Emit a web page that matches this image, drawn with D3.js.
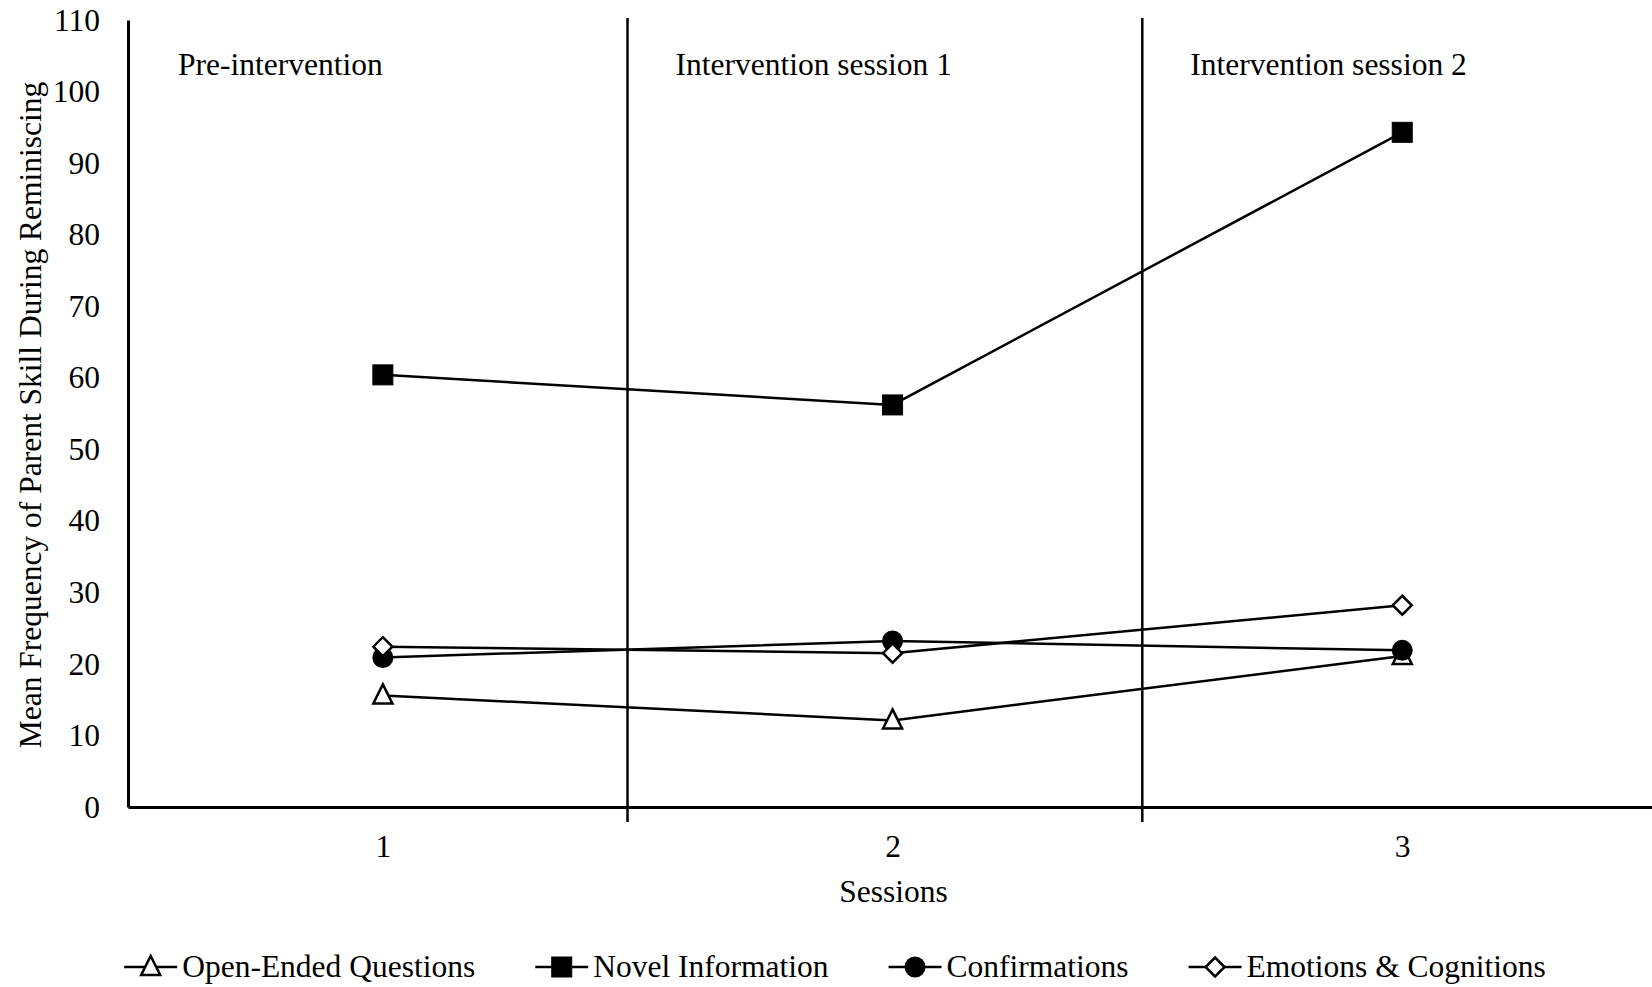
<!DOCTYPE html>
<html><head><meta charset="utf-8">
<script src="https://cdn.jsdelivr.net/npm/d3@7"></script>
<style>
html,body{margin:0;padding:0;background:#fff;}
text{font-family:"Liberation Serif","Times New Roman",serif;fill:#000;}
</style></head>
<body>
<svg id="chart" width="1652" height="987"></svg>
<script>
const sessions = [1, 2, 3];
const yTicks = [0, 10, 20, 30, 40, 50, 60, 70, 80, 90, 100, 110];
const openEnded = [15.6, 12.1, 21.1];
const novelInfo = [60.4, 56.2, 94.3];
const confirmations = [20.9, 23.2, 21.9];
const emotions = [22.4, 21.5, 28.2];
const seriesNames = ["Open-Ended Questions", "Novel Information", "Confirmations", "Emotions & Cognitions"];
const seriesSymbols = ["triangle", "square", "circle", "diamond"];
const periodLabels = ["Pre-intervention", "Intervention session 1", "Intervention session 2"];
const periodStarts = [0.5, 1.48, 2.49];
const dividers = [1.48, 2.49];

const series = [openEnded, novelInfo, confirmations, emotions].map((v, i) => ({
  name: seriesNames[i], sym: seriesSymbols[i], values: v
}));

const svg = d3.select("#chart");
const FS = 31.5;
const x = d3.scaleLinear().domain([0.5, 3.49]).range([128, 1652]);
const y = d3.scaleLinear().domain([0, 110]).range([807, 20]);

// dividers
svg.append("g").selectAll("line").data(dividers).join("line")
  .attr("x1", d => x(d)).attr("x2", d => x(d))
  .attr("y1", y(110) - 2).attr("y2", y(0) + 15)
  .attr("stroke", "#000").attr("stroke-width", 2.5);

// period labels
svg.append("g").selectAll("text").data(periodLabels).join("text")
  .attr("x", (d, i) => x(periodStarts[i]) + (i === 0 ? 50 : 48))
  .attr("y", 64).attr("dy", "0.35em")
  .style("font-size", FS + "px").text(d => d);

// y axis
const yAxis = svg.append("g").attr("transform", `translate(${x(0.5)},0)`)
  .call(d3.axisLeft(y).tickValues(yTicks).tickSize(0).tickSizeOuter(0).tickPadding(28).tickFormat(d3.format("d")));
yAxis.select(".domain").attr("stroke", "#000").attr("stroke-width", 3);
yAxis.selectAll("text").style("font-size", FS + "px").style("font-family", '"Liberation Serif",serif');

// x axis
const xAxis = svg.append("g").attr("transform", `translate(0,${y(0)})`)
  .call(d3.axisBottom(x).tickValues(sessions).tickSize(0).tickSizeOuter(0).tickPadding(28).tickFormat(d3.format("d")));
xAxis.select(".domain").attr("stroke", "#000").attr("stroke-width", 3);
xAxis.selectAll("text").style("font-size", FS + "px").style("font-family", '"Liberation Serif",serif');

// axis titles
svg.append("text").attr("x", x(2) + 1).attr("y", 891).attr("dy", "0.35em")
  .attr("text-anchor", "middle").style("font-size", FS + "px").text("Sessions");
svg.append("text").attr("transform", "translate(30,415) rotate(-90)").attr("dy", "0.35em")
  .attr("text-anchor", "middle").style("font-size", FS + "px")
  .text("Mean Frequency of Parent Skill During Reminiscing");

function drawMarker(g, sym, cx, cy) {
  if (sym === "square") {
    g.append("rect").attr("x", cx - 10).attr("y", cy - 10).attr("width", 20).attr("height", 20)
      .attr("fill", "#000").attr("stroke", "#000").attr("stroke-width", 1);
  } else if (sym === "circle") {
    g.append("circle").attr("cx", cx).attr("cy", cy).attr("r", 10.5).attr("fill", "#000");
  } else if (sym === "triangle") {
    g.append("path").attr("d", `M${cx},${cy - 11}L${cx + 9.5},${cy + 8}L${cx - 9.5},${cy + 8}Z`)
      .attr("fill", "#fff").attr("stroke", "#000").attr("stroke-width", 2.5);
  } else if (sym === "diamond") {
    g.append("path").attr("d", `M${cx},${cy - 9.5}L${cx + 9.5},${cy}L${cx},${cy + 9.5}L${cx - 9.5},${cy}Z`)
      .attr("fill", "#fff").attr("stroke", "#000").attr("stroke-width", 2.5);
  }
}

const line = d3.line().x((d, i) => x(sessions[i])).y(d => y(d));
const gLines = svg.append("g");
series.forEach(s => {
  gLines.append("path").attr("d", line(s.values)).attr("fill", "none")
    .attr("stroke", "#000").attr("stroke-width", 2.5);
});
series.forEach(s => {
  const g = svg.append("g");
  s.values.forEach((v, i) => drawMarker(g, s.sym, x(sessions[i]), y(v)));
});

// legend
const leg = svg.append("g");
const LY = 967, LL = 53, TO = 58, GAP = 60;
const items = series.map(s => {
  const g = leg.append("g");
  g.append("line").attr("x1", 0).attr("x2", LL).attr("y1", LY).attr("y2", LY)
    .attr("stroke", "#000").attr("stroke-width", 2.5);
  const t = g.append("text").attr("x", TO).attr("y", LY).attr("dy", "0.33em")
    .style("font-size", FS + "px").text(s.name);
  drawMarker(g, s.sym, LL / 2, LY);
  return { g, w: TO + t.node().getComputedTextLength() };
});
let total = d3.sum(items, d => d.w) + GAP * (items.length - 1);
let cx = 835 - total / 2;
items.forEach(it => { it.g.attr("transform", `translate(${cx},0)`); cx += it.w + GAP; });
</script>
</body></html>
